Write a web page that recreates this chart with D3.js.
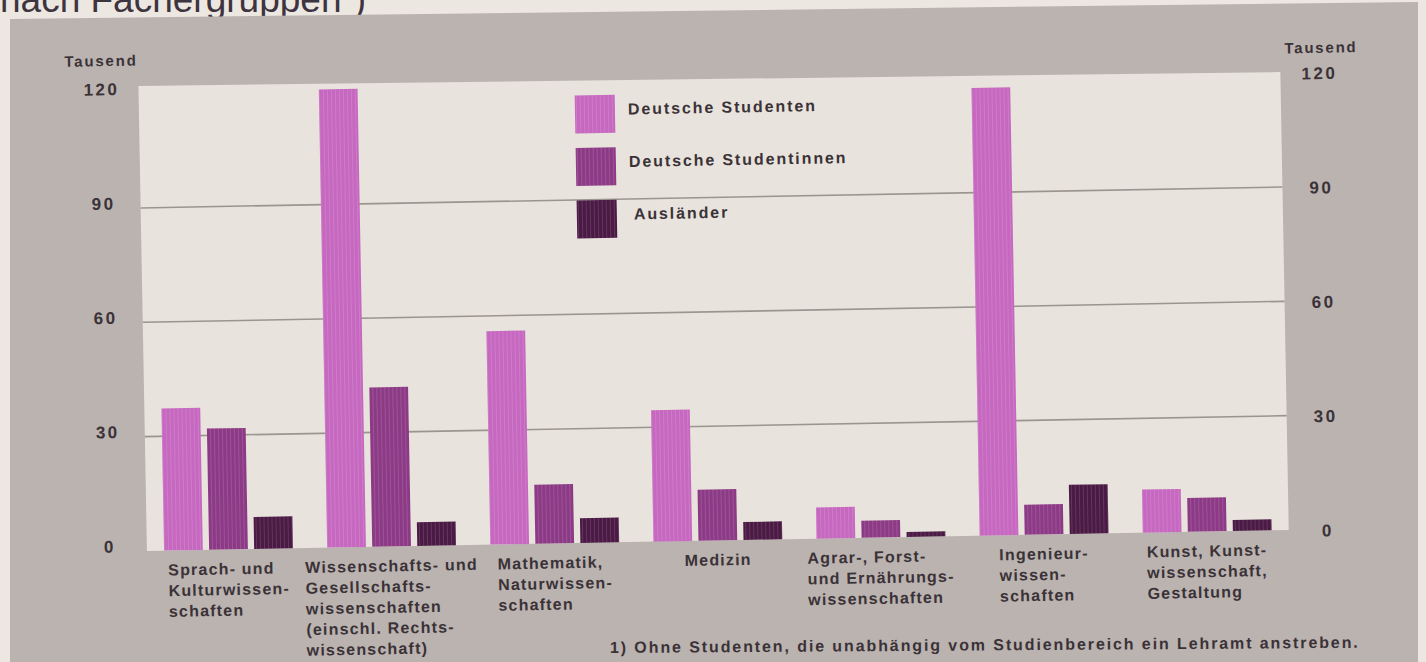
<!DOCTYPE html>
<html>
<head>
<meta charset="utf-8">
<script src="https://cdn.jsdelivr.net/npm/d3@7"></script>
<style>
  html, body { margin: 0; padding: 0; background: #ece7e0; }
  svg { display: block; }
  text { font-family: "Liberation Sans", Arial, Helvetica, sans-serif; }
</style>
</head>
<body>
<svg id="chart" width="1426" height="662"></svg>
<script>
// Studierende nach Fächergruppen, in Tausend
const categoryLines = [
  ["Sprach- und", "Kulturwissen-", "schaften"],
  ["Wissenschafts- und", "Gesellschafts-", "wissenschaften", "(einschl. Rechts-", "wissenschaft)"],
  ["Mathematik,", "Naturwissen-", "schaften"],
  ["Medizin"],
  ["Agrar-, Forst-", "und Ernährungs-", "wissenschaften"],
  ["Ingenieur-", "wissen-", "schaften"],
  ["Kunst, Kunst-", "wissenschaft,", "Gestaltung"]
];
const seriesNames = ["Deutsche Studenten", "Deutsche Studentinnen", "Ausländer"];
const deutscheStudenten    = [37.3, 120.2, 56.0, 34.5, 8.2, 117.5, 11.3];
const deutscheStudentinnen = [31.8, 41.8, 15.5, 13.4, 4.5, 7.9, 8.9];
const auslaender           = [8.4, 6.2, 6.5, 4.7, 1.3, 12.9, 2.9];
const tickValues = [0, 30, 60, 90, 120];
const gridValues = [30, 60, 90];
const unitLabel = "Tausend";
const titleText = "nach Fächergruppen";
const footnote = "1) Ohne Studenten, die unabhängig vom Studienbereich ein Lehramt anstreben.";

const seriesValues = [deutscheStudenten, deutscheStudentinnen, auslaender];
const seriesColors = ["#c667c0", "#8d3a86", "#4a1944"];
const textColor = "#3a3237";

const svg = d3.select("#chart");

// vertical stripe texture of the printed bars
const defs = svg.append("defs");
const pat = defs.append("pattern")
  .attr("id", "stripes").attr("patternUnits", "userSpaceOnUse")
  .attr("width", 4).attr("height", 10);
pat.append("rect").attr("x", 0).attr("y", 0).attr("width", 1).attr("height", 10)
  .attr("fill", "#ffffff").attr("opacity", 0.13);

// page title, running off the top edge
const title = svg.append("text")
  .attr("x", 0).attr("y", 12)
  .attr("font-size", 37).attr("fill", "#3d3440")
  .text(titleText);
title.append("tspan").attr("font-size", 22).attr("dy", -14).text("1");
title.append("tspan").attr("font-size", 37).attr("dy", 14).text(")");

// grey backing panel
svg.append("polygon")
  .attr("points", "10,19 1418,2 1418,700 10,700")
  .attr("fill", "#bab3b0");

// chart group, printed slightly askew
const g = svg.append("g").attr("transform", "rotate(-1.05, 713, 331)");

const panelLeft = 143, panelRight = 1285;
const y = d3.scaleLinear().domain([0, 122]).range([540.5, 75.5]);

const x0 = d3.scaleBand()
  .domain(d3.range(categoryLines.length))
  .range([panelLeft, panelRight])
  .paddingInner(0.21).paddingOuter(0.105);
const x1 = d3.scaleBand()
  .domain(d3.range(seriesNames.length))
  .range([0, x0.bandwidth()])
  .paddingInner(0.14);

// light plotting panel (its top edge sags a little toward the right)
g.append("polygon")
  .attr("points", [
    [panelLeft, y(122)], [panelRight, y(122) + 7],
    [panelRight, y(0)], [panelLeft, y(0)]
  ].map(p => p.join(",")).join(" "))
  .attr("fill", "#e8e3dc");

// grid lines
g.selectAll("line.grid").data(gridValues).join("line")
  .attr("class", "grid")
  .attr("x1", panelLeft).attr("x2", panelRight)
  .attr("y1", d => y(d)).attr("y2", d => y(d))
  .attr("stroke", "#9b9590").attr("stroke-width", 1.6);

// bars
const groups = g.selectAll("g.cat").data(categoryLines.map((_, i) => i)).join("g")
  .attr("class", "cat")
  .attr("transform", i => `translate(${x0(i)},0)`);

groups.each(function (i) {
  const grp = d3.select(this);
  seriesNames.forEach((name, s) => {
    const v = seriesValues[s][i];
    grp.append("rect")
      .attr("x", x1(s)).attr("y", y(v))
      .attr("width", x1.bandwidth()).attr("height", y(0) - y(v))
      .attr("fill", seriesColors[s]);
    grp.append("rect")
      .attr("x", x1(s)).attr("y", y(v))
      .attr("width", x1.bandwidth()).attr("height", y(0) - y(v))
      .attr("fill", "url(#stripes)");
  });
});

// axis labels, both sides
g.selectAll("text.tl").data(tickValues).join("text")
  .attr("class", "tl")
  .attr("x", 106).attr("y", d => y(d) - 5).attr("dy", "0.36em")
  .attr("text-anchor", "middle")
  .attr("font-size", 17).attr("font-weight", "bold")
  .attr("letter-spacing", 2.5).attr("fill", textColor)
  .text(d => d);
g.selectAll("text.tr").data(tickValues).join("text")
  .attr("class", "tr")
  .attr("x", 1324).attr("y", d => y(d) + 1).attr("dy", "0.36em")
  .attr("text-anchor", "middle")
  .attr("font-size", 17).attr("font-weight", "bold")
  .attr("letter-spacing", 2.5).attr("fill", textColor)
  .text(d => d);

g.append("text").attr("x", 106).attr("y", 55)
  .attr("text-anchor", "middle").attr("font-size", 15).attr("font-weight", "bold")
  .attr("letter-spacing", 1.8).attr("fill", textColor).text(unitLabel);
g.append("text").attr("x", 1326).attr("y", 64)
  .attr("text-anchor", "middle").attr("font-size", 15).attr("font-weight", "bold")
  .attr("letter-spacing", 1.8).attr("fill", textColor).text(unitLabel);

// category labels: left-aligned block centred under each group
const lineH = 20.7;
groups.each(function (i) {
  const lbl = d3.select(this).append("text")
    .attr("font-size", 16).attr("font-weight", "bold")
    .attr("letter-spacing", 1.2).attr("fill", textColor);
  categoryLines[i].forEach((ln, k) => {
    lbl.append("tspan").attr("x", 0).attr("y", y(0) + 25 + k * lineH).text(ln);
  });
  const w = lbl.node().getBBox().width;
  lbl.attr("transform", `translate(${(x0.bandwidth() - w) / 2},0)`);
});

// legend
const legendX = 579, legendY = 93, legendStep = 52.5;
seriesNames.forEach((name, s) => {
  g.append("rect")
    .attr("x", legendX).attr("y", legendY + s * legendStep)
    .attr("width", 40).attr("height", 38)
    .attr("fill", seriesColors[s]);
  g.append("rect")
    .attr("x", legendX).attr("y", legendY + s * legendStep)
    .attr("width", 40).attr("height", 38)
    .attr("fill", "url(#stripes)");
  g.append("text")
    .attr("x", legendX + (s === 2 ? 57 : 53)).attr("y", legendY + s * legendStep + 20)
    .attr("font-size", 16).attr("font-weight", "bold")
    .attr("letter-spacing", 1.9).attr("fill", textColor)
    .text(name);
});

// footnote
svg.append("text")
  .attr("x", 610).attr("y", 653)
  .attr("transform", "rotate(-0.4, 610, 653)")
  .attr("font-size", 16).attr("font-weight", "bold")
  .attr("letter-spacing", 1.9).attr("fill", textColor)
  .text(footnote);
</script>
</body>
</html>
